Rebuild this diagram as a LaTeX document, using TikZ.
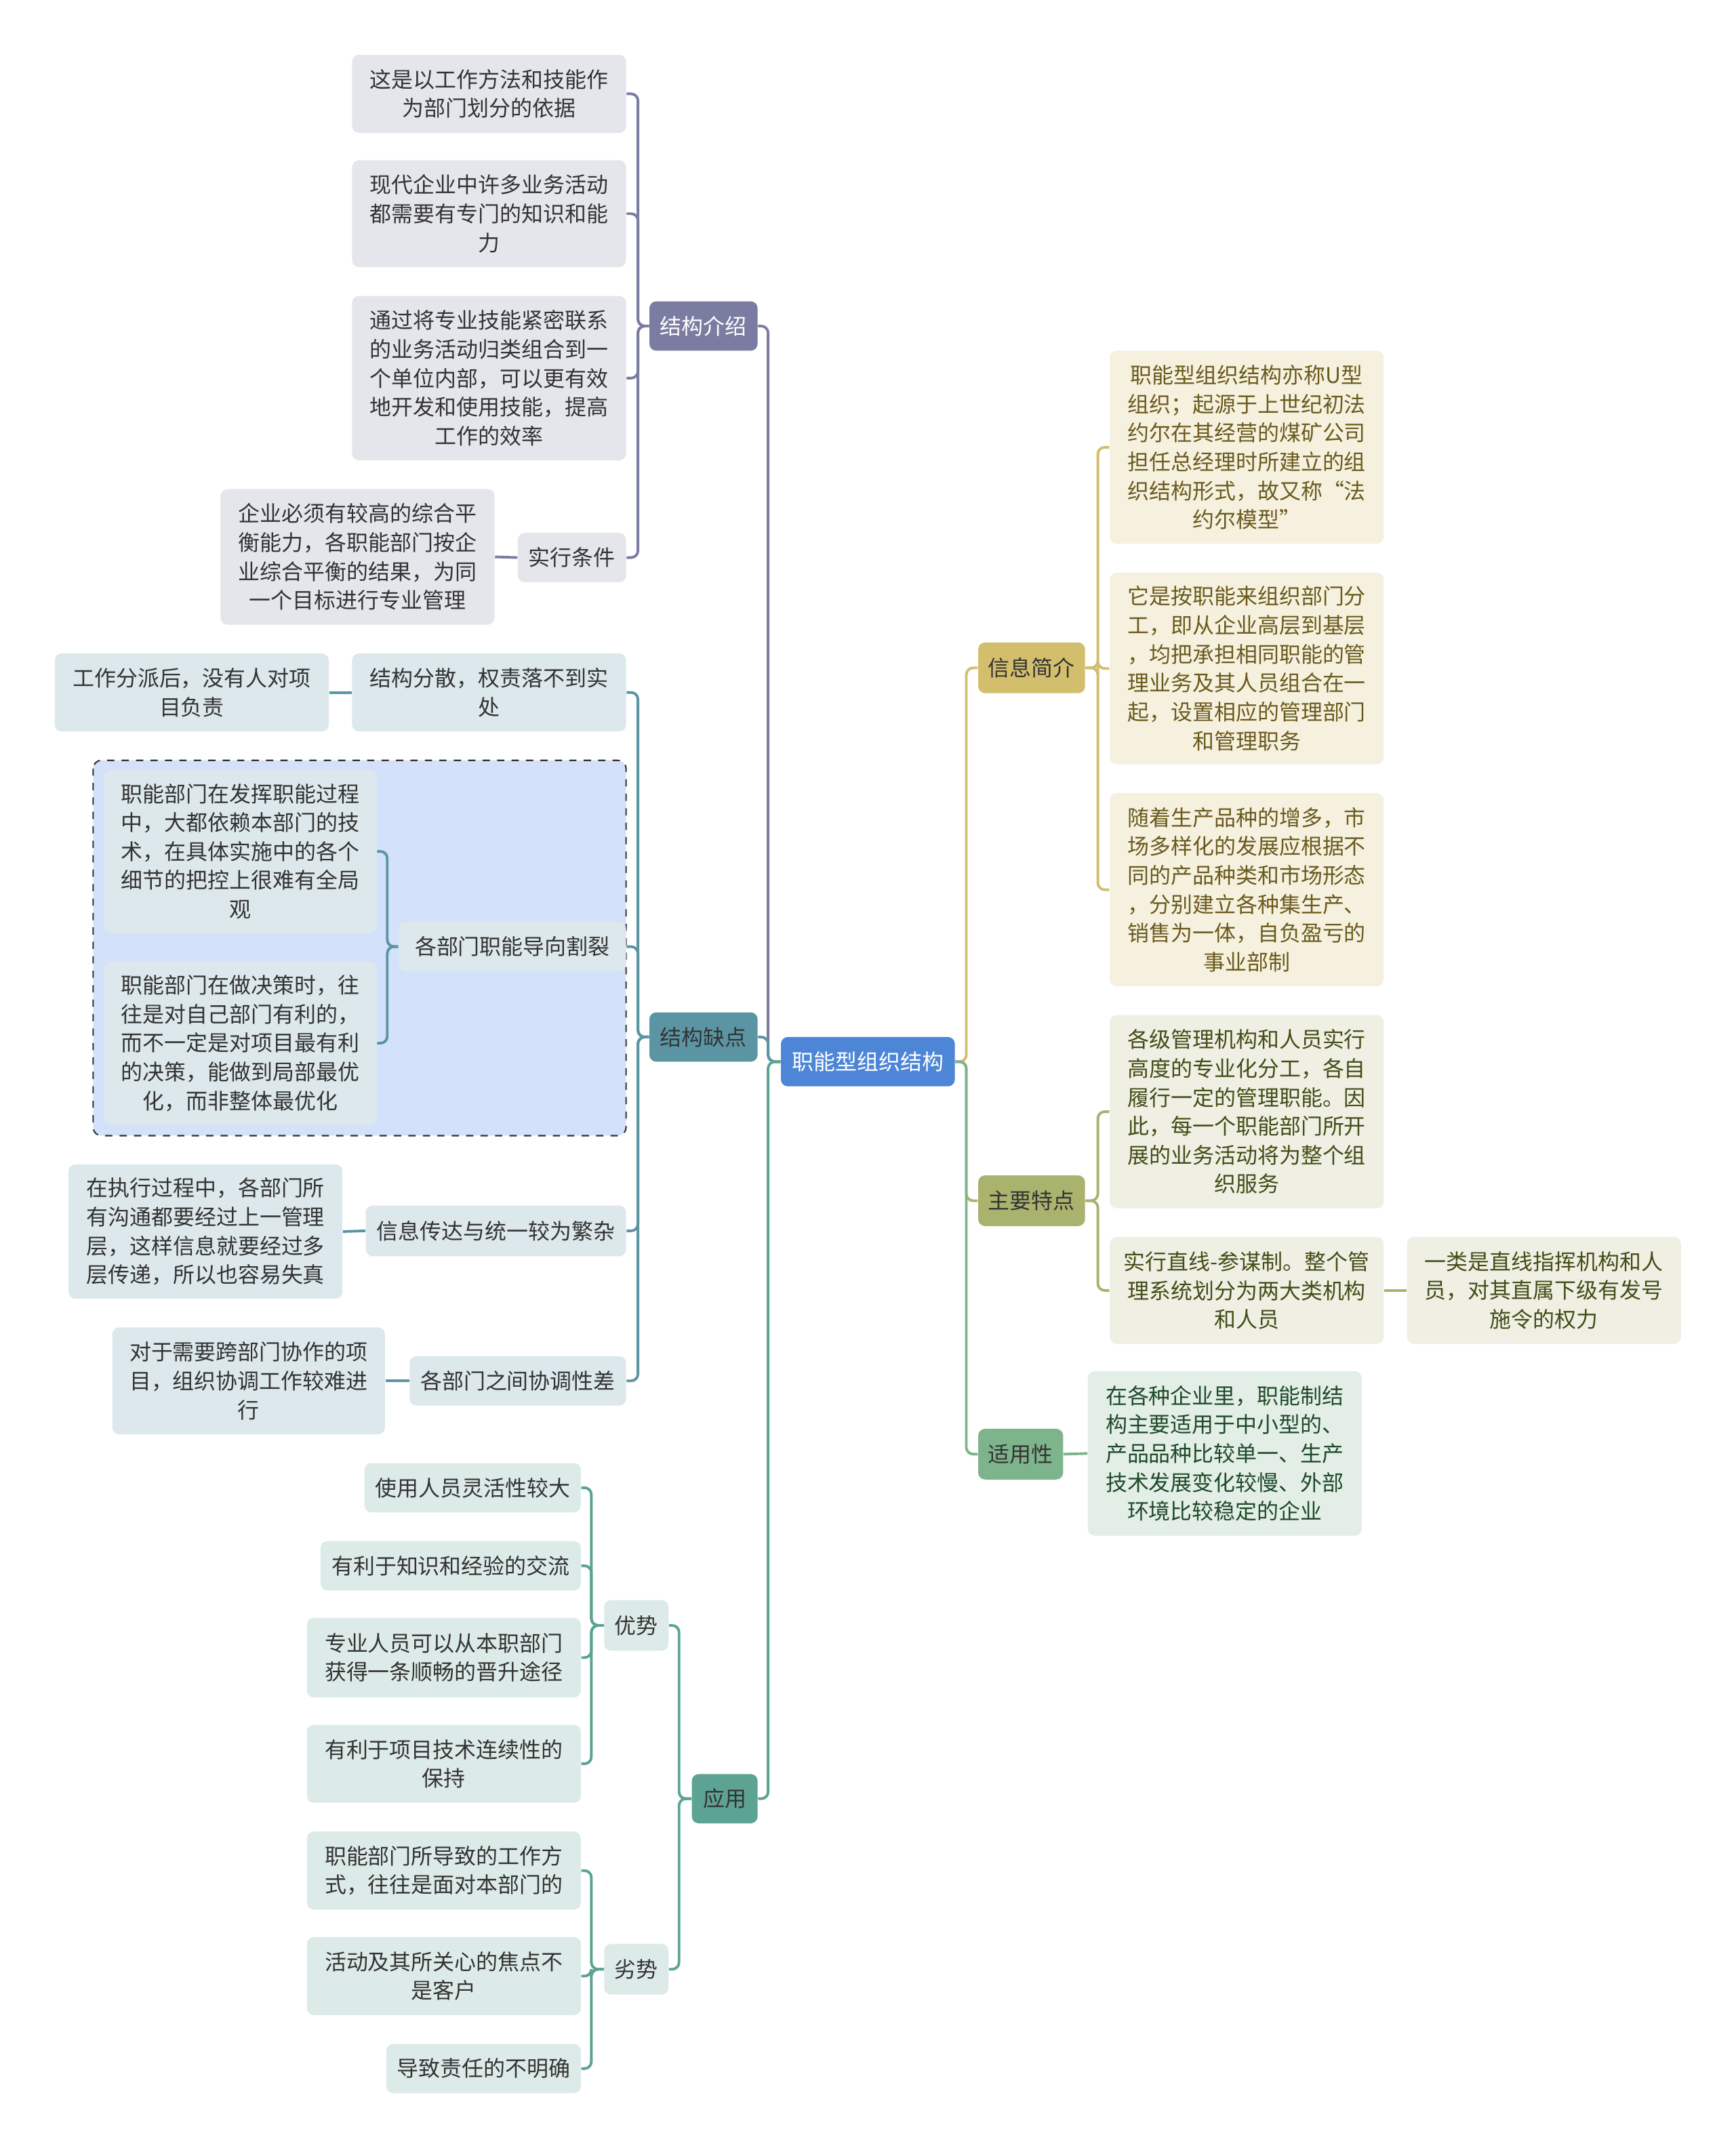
\documentclass[tikz,border=0pt]{standalone}
\usepackage{fontspec}
\setmainfont{Noto Sans CJK SC}
\definecolor{croot}{HTML}{4D86D7}
\definecolor{cpur}{HTML}{7B7CA1}
\definecolor{cteal}{HTML}{5B95A4}
\definecolor{cgrn}{HTML}{5DA393}
\definecolor{cgold}{HTML}{D3BE6D}
\definecolor{coliv}{HTML}{A9B36D}
\definecolor{cgr2}{HTML}{7EB48B}
\definecolor{fa}{HTML}{E4E6EC}
\definecolor{fb}{HTML}{DCE8EB}
\definecolor{fc}{HTML}{DDEBE8}
\definecolor{fd}{HTML}{F5F1DE}
\definecolor{fe}{HTML}{EFEFE3}
\definecolor{ff}{HTML}{E3EEE6}
\definecolor{ta}{HTML}{333333}
\definecolor{td}{HTML}{6B5A1E}
\definecolor{te}{HTML}{434D17}
\definecolor{tf}{HTML}{1E4A2A}
\definecolor{dashfill}{HTML}{D3E2FA}
\begin{document}
\begin{tikzpicture}[x=0.02cm,y=-0.02cm,
  bx/.style={rounded corners=0.1cm, align=center, inner sep=0pt,
    font=\fontsize{9pt}{12pt}\selectfont},
  rootst/.style={bx, fill=croot, text=white},
  lpur/.style={bx, fill=cpur, text=white},
  lteal/.style={bx, fill=cteal, text=ta},
  lgrn/.style={bx, fill=cgrn, text=ta},
  lgold/.style={bx, fill=cgold, text=ta},
  loliv/.style={bx, fill=coliv, text=ta},
  lgr2/.style={bx, fill=cgr2, text=ta},
  ka/.style={bx, fill=fa, text=ta},
  kb/.style={bx, fill=fb, text=ta},
  kc/.style={bx, fill=fc, text=ta},
  kd/.style={bx, fill=fd, text=td},
  ke/.style={bx, fill=fe, text=te},
  kf/.style={bx, fill=ff, text=tf},
  cn/.style={draw=#1, line width=1.1pt, rounded corners=0.1cm},
  dbox/.style={draw=black!80, dashed, line width=0.6pt, fill=dashfill, rounded corners=0.12cm}
]
\useasboundingbox[fill=white] (0,0) rectangle (1267,1568);

\draw[dbox] (68,555) rectangle (457,829);

% root
\node[rootst, minimum width=2.54cm, minimum height=0.72cm] (root) at (633.5,775) {职能型组织结构};

% level 1 left
\node[lpur, minimum width=1.58cm, minimum height=0.72cm] (jg) at (513.5,238) {结构介绍};
\node[lteal, minimum width=1.58cm, minimum height=0.72cm] (qd) at (513.5,757) {结构缺点};
\node[lgrn, minimum width=0.96cm, minimum height=0.72cm] (yy) at (529,1313) {应用};
% level 1 right
\node[lgold, minimum width=1.56cm, minimum height=0.74cm] (xx) at (753,487.5) {信息简介};
\node[loliv, minimum width=1.56cm, minimum height=0.74cm] (td) at (753,876.5) {主要特点};
\node[lgr2, minimum width=1.24cm, minimum height=0.74cm] (sy) at (745,1061.5) {适用性};

% 结构介绍 children
\node[ka, minimum width=4cm, minimum height=1.14cm] (c1) at (357,68.5) {这是以工作方法和技能作\\为部门划分的依据};
\node[ka, minimum width=4cm, minimum height=1.56cm] (c2) at (357,156) {现代企业中许多业务活动\\都需要有专门的知识和能\\力};
\node[ka, minimum width=4cm, minimum height=2.4cm] (c3) at (357,276) {通过将专业技能紧密联系\\的业务活动归类组合到一\\个单位内部，可以更有效\\地开发和使用技能，提高\\工作的效率};
\node[ka, minimum width=1.58cm, minimum height=0.72cm] (c4) at (417.5,407) {实行条件};
\node[ka, minimum width=4cm, minimum height=1.98cm] (c4a) at (261,406.5) {企业必须有较高的综合平\\衡能力，各职能部门按企\\业综合平衡的结果，为同\\一个目标进行专业管理};

% 结构缺点 children
\node[kb, minimum width=4cm, minimum height=1.14cm] (d1) at (357,505.5) {结构分散，权责落不到实\\处};
\node[kb, minimum width=4cm, minimum height=1.14cm] (d1a) at (140,505.5) {工作分派后，没有人对项\\目负责};
\node[kb, minimum width=3.32cm, minimum height=0.72cm] (d2) at (374,691) {各部门职能导向割裂};
\node[kb, minimum width=3.98cm, minimum height=2.38cm] (d2a) at (175.5,621.5) {职能部门在发挥职能过程\\中，大都依赖本部门的技\\术，在具体实施中的各个\\细节的把控上很难有全局\\观};
\node[kb, minimum width=3.98cm, minimum height=2.38cm] (d2b) at (175.5,761.5) {职能部门在做决策时，往\\往是对自己部门有利的，\\而不一定是对项目最有利\\的决策，能做到局部最优\\化，而非整体最优化};
\node[kb, minimum width=3.8cm, minimum height=0.74cm] (d3) at (362,898.5) {信息传达与统一较为繁杂};
\node[kb, minimum width=4cm, minimum height=1.96cm] (d3a) at (150,899) {在执行过程中，各部门所\\有沟通都要经过上一管理\\层，这样信息就要经过多\\层传递，所以也容易失真};
\node[kb, minimum width=3.16cm, minimum height=0.72cm] (d4) at (378,1008) {各部门之间协调性差};
\node[kb, minimum width=3.98cm, minimum height=1.56cm] (d4a) at (181.5,1008) {对于需要跨部门协作的项\\目，组织协调工作较难进\\行};

% 应用 children
\node[kc, minimum width=0.94cm, minimum height=0.74cm] (ys) at (464.5,1186.5) {优势};
\node[kc, minimum width=3.16cm, minimum height=0.72cm] (e1) at (345,1086) {使用人员灵活性较大};
\node[kc, minimum width=3.8cm, minimum height=0.72cm] (e2) at (329,1143) {有利于知识和经验的交流};
\node[kc, minimum width=4cm, minimum height=1.16cm] (e3) at (324,1210) {专业人员可以从本职部门\\获得一条顺畅的晋升途径};
\node[kc, minimum width=4cm, minimum height=1.14cm] (e4) at (324,1287.5) {有利于项目技术连续性的\\保持};
\node[kc, minimum width=0.94cm, minimum height=0.74cm] (ls) at (464.5,1437.5) {劣势};
\node[kc, minimum width=4cm, minimum height=1.14cm] (f1) at (324,1365.5) {职能部门所导致的工作方\\式，往往是面对本部门的};
\node[kc, minimum width=4cm, minimum height=1.14cm] (f2) at (324,1442.5) {活动及其所关心的焦点不\\是客户};
\node[kc, minimum width=2.84cm, minimum height=0.72cm] (f3) at (353,1510) {导致责任的不明确};

% 信息简介 children
\node[kd, minimum width=4cm, minimum height=2.82cm] (g1) at (910,326.5) {职能型组织结构亦称U型\\组织；起源于上世纪初法\\约尔在其经营的煤矿公司\\担任总经理时所建立的组\\织结构形式，故又称“法\\约尔模型”};
\node[kd, minimum width=4cm, minimum height=2.8cm] (g2) at (910,488) {它是按职能来组织部门分\\工，即从企业高层到基层\\，均把承担相同职能的管\\理业务及其人员组合在一\\起，设置相应的管理部门\\和管理职务};
\node[kd, minimum width=4cm, minimum height=2.82cm] (g3) at (910,649.5) {随着生产品种的增多，市\\场多样化的发展应根据不\\同的产品种类和市场形态\\，分别建立各种集生产、\\销售为一体，自负盈亏的\\事业部制};

% 主要特点 children
\node[ke, minimum width=4cm, minimum height=2.82cm] (h1) at (910,811.5) {各级管理机构和人员实行\\高度的专业化分工，各自\\履行一定的管理职能。因\\此，每一个职能部门所开\\展的业务活动将为整个组\\织服务};
\node[ke, minimum width=4cm, minimum height=1.56cm] (h2) at (910,942) {实行直线-参谋制。整个管\\理系统划分为两大类机构\\和人员};
\node[ke, minimum width=4cm, minimum height=1.56cm] (h2a) at (1127,942) {一类是直线指挥机构和人\\员，对其直属下级有发号\\施令的权力};

% 适用性 child
\node[kf, minimum width=4cm, minimum height=2.4cm] (i1) at (894,1061) {在各种企业里，职能制结\\构主要适用于中小型的、\\产品品种比较单一、生产\\技术发展变化较慢、外部\\环境比较稳定的企业};

% connectors root
\draw[cn=cpur] (root.west) -- ++(-9,0) |- (jg.east);
\draw[cn=cteal] (root.west) -- ++(-9,0) |- (qd.east);
\draw[cn=cgrn] (root.west) -- ++(-9,0) |- (yy.east);
\draw[cn=cgold] (root.east) -- ++(8,0) |- (xx.west);
\draw[cn=coliv] (root.east) -- ++(8,0) |- (td.west);
\draw[cn=cgr2] (root.east) -- ++(8,0) |- (sy.west);

% 结构介绍
\foreach \n in {c1,c2,c3,c4}
  \draw[cn=cpur] (jg.west) -- ++(-8,0) |- (\n.east);
\draw[cn=cpur] (c4.west) -- (c4a.east);

% 结构缺点
\foreach \n in {d1,d2,d3,d4}
  \draw[cn=cteal] (qd.west) -- ++(-8,0) |- (\n.east);
\draw[cn=cteal] (d1.west) -- (d1a.east);
\draw[cn=cteal] (d3.west) -- (d3a.east);
\draw[cn=cteal] (d4.west) -- (d4a.east);
\foreach \n in {d2a,d2b}
  \draw[cn=cteal] (d2.west) -- ++(-8,0) |- (\n.east);

% 应用
\foreach \n in {ys,ls}
  \draw[cn=cgrn] (yy.west) -- ++(-9,0) |- (\n.east);
\foreach \n in {e1,e2,e3,e4}
  \draw[cn=cgrn] (ys.west) -- ++(-9,0) |- (\n.east);
\foreach \n in {f1,f2,f3}
  \draw[cn=cgrn] (ls.west) -- ++(-9,0) |- (\n.east);

% right side
\foreach \n in {g1,g2,g3}
  \draw[cn=cgold] (xx.east) -- ++(9,0) |- (\n.west);
\foreach \n in {h1,h2}
  \draw[cn=coliv] (td.east) -- ++(9,0) |- (\n.west);
\draw[cn=coliv] (h2.east) -- (h2a.west);
\draw[cn=cgr2] (sy.east) -- (i1.west);
\end{tikzpicture}
\end{document}
